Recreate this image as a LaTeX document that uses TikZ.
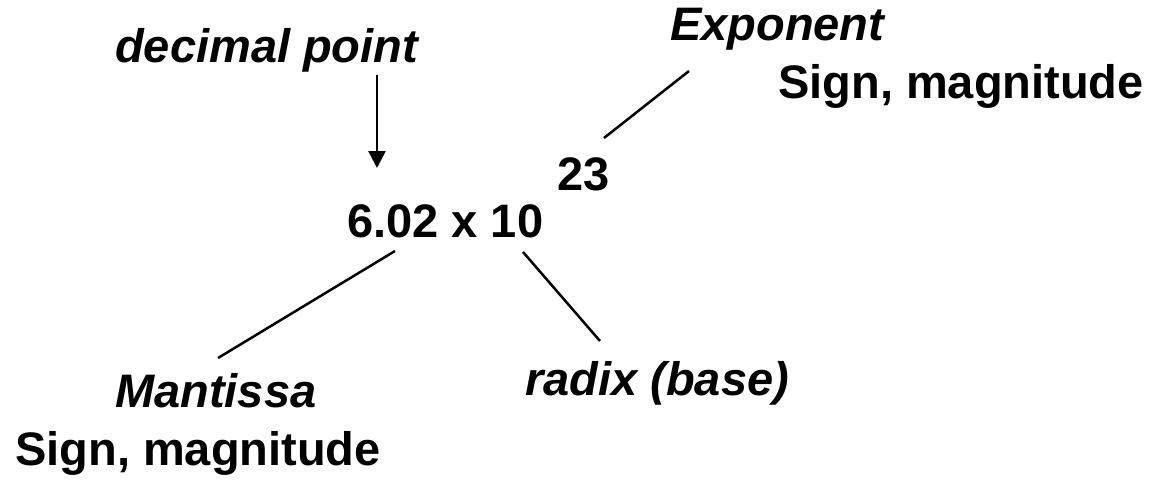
\documentclass[tikz,border=0pt]{standalone}
\usepackage{fontspec}
\setmainfont{Liberation Sans}
\usetikzlibrary{arrows.meta}
\tikzset{
  lbl/.style={inner sep=0pt, anchor=base west, font=\fontsize{47}{56}\selectfont\bfseries},
  ilbl/.style={lbl, font=\fontsize{47}{56}\selectfont\bfseries\itshape},
  conn/.style={line width=2.5pt, draw=black},
  tip/.style={-{Triangle[length=17pt,width=17pt]}}
}
\begin{document}
\begin{tikzpicture}[x=1pt,y=-1pt]
\useasboundingbox (0,0) rectangle (1156,479);
% labels
\node[ilbl] (dec) at (115,62) {decimal point};
\node[ilbl] (exp) at (670,40) {Exponent};
\node[lbl]  (expsm) at (778,98) {Sign, magnitude};
\node[lbl]  (pow) at (557,190) {23};
\node[lbl]  (num) at (347,237) {6.02 x 10};
\node[ilbl] (man) at (115,407) {Mantissa};
\node[lbl]  (mansm) at (15,465) {Sign, magnitude};
\node[ilbl] (rad) at (525,395) {radix (base)};
% connector end points
\coordinate (decA) at (377,75);
\coordinate (decB) at (377,168);
\coordinate (expA) at (689,71);
\coordinate (expB) at (604,138);
\coordinate (manA) at (395,251);
\coordinate (manB) at (218,358);
\coordinate (radA) at (523,252);
\coordinate (radB) at (600,341);
% connectors
\draw[conn,tip] (decA) -- (decB);
\draw[conn] (expA) -- (expB);
\draw[conn] (manA) -- (manB);
\draw[conn] (radA) -- (radB);
\end{tikzpicture}
\end{document}
